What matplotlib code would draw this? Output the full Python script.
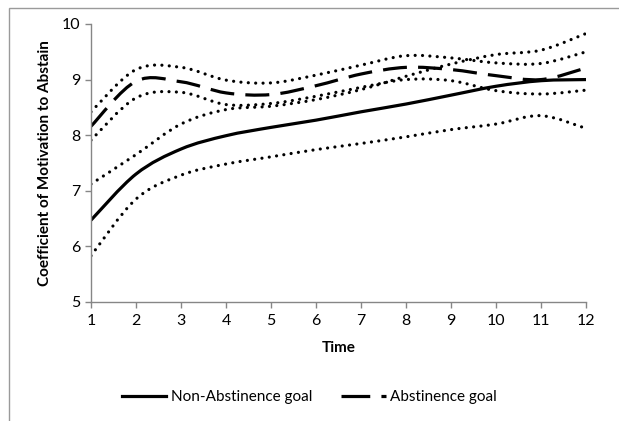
import numpy as np
import matplotlib
matplotlib.use("Agg")
from matplotlib import pyplot as plt
from matplotlib.path import Path
from matplotlib.patches import PathPatch, Rectangle
from matplotlib.lines import Line2D

plt.rcParams['font.family'] = ['Lato', 'DejaVu Sans']

time = [1, 2, 3, 4, 5, 6, 7, 8, 9, 10, 11, 12]

# Non-Abstinence goal: estimate with lower / upper band
non_abst = [6.47, 7.30, 7.75, 7.99, 8.14, 8.27, 8.42, 8.56, 8.72, 8.88, 8.98, 9.00]
non_abst_lo = [5.83, 6.85, 7.28, 7.48, 7.61, 7.74, 7.85, 7.97, 8.10, 8.20, 8.35, 8.12]
non_abst_hi = [7.12, 7.65, 8.20, 8.46, 8.52, 8.64, 8.82, 9.06, 9.28, 9.45, 9.53, 9.83]

# Abstinence goal: estimate with lower / upper band
abst = [8.16, 8.97, 8.96, 8.76, 8.73, 8.89, 9.10, 9.22, 9.18, 9.07, 9.00, 9.21]
abst_lo = [7.91, 8.67, 8.77, 8.55, 8.57, 8.70, 8.86, 9.00, 8.98, 8.80, 8.74, 8.81]
abst_hi = [8.42, 9.18, 9.22, 8.99, 8.94, 9.08, 9.26, 9.43, 9.39, 9.30, 9.29, 9.50]

x_ticks = time
y_ticks = [5, 6, 7, 8, 9, 10]


def smooth_path(x, y):
    # excel-like smoothed line: bezier segments through every point
    p = np.column_stack([x, y]).astype(float)
    n = len(p)
    verts = [p[0]]
    codes = [Path.MOVETO]
    for i in range(n - 1):
        p0 = p[i - 1] if i > 0 else p[i]
        p1, p2 = p[i], p[i + 1]
        p3 = p[i + 2] if i + 2 < n else p[i + 1]
        verts += [p1 + (p2 - p0) / 6., p2 - (p3 - p1) / 6., p2]
        codes += [Path.CURVE4] * 3
    return Path(verts, codes)


def draw(ax, x, y, **kw):
    patch = PathPatch(smooth_path(x, y), fill=False, edgecolor="black",
                      transform=ax.transData, **kw)
    ax.add_patch(patch)


lw = 2.3
dotted = dict(linewidth=lw, linestyle=(0, (0.01, 2.3)), capstyle="round")

fig = plt.figure(figsize=(6.19, 4.21), dpi=100)
ax = fig.add_axes([0.147, 0.283, 0.8, 0.66])

for lo, hi in [(non_abst_lo, non_abst_hi), (abst_lo, abst_hi)]:
    draw(ax, time, lo, **dotted)
    draw(ax, time, hi, **dotted)
draw(ax, time, non_abst, linewidth=lw, capstyle="butt")
draw(ax, time, abst, linewidth=lw, linestyle=(0, (7.5, 3.5)), capstyle="butt")

ax.set_xlim(1, 12)
ax.set_ylim(5, 10)
ax.set_xticks(x_ticks)
ax.set_yticks(y_ticks)
for s in ["top", "right"]:
    ax.spines[s].set_visible(False)
for s in ["left", "bottom"]:
    ax.spines[s].set_color("#868686")
    ax.spines[s].set_linewidth(1.0)
ax.tick_params(colors="#868686", labelcolor="black", labelsize=11.5,
               length=4, width=1.0, direction="out")
ax.tick_params(axis="x", pad=5)
ax.set_xlabel("Time", fontsize=11, fontweight="bold", labelpad=9)
ax.set_ylabel("Coefficient of Motivation to Abstain", fontsize=11,
              fontweight="bold", labelpad=7)

handles = [Line2D([], [], color="black", lw=lw),
           Line2D([], [], color="black", lw=lw, ls=(0, (9, 3.5)))]
fig.legend(handles, ["Non-Abstinence goal", "Abstinence goal"],
           loc="center", bbox_to_anchor=(0.5, 0.057), ncol=2, frameon=False,
           fontsize=11, handlelength=2.9, handletextpad=0.3, columnspacing=1.9)

# outer chart frame
fig.add_artist(Rectangle((9 / 619, -0.1), 1.2, 1 - 8 / 421 + 0.1,
                         transform=fig.transFigure, fill=False,
                         edgecolor="#9a9a9a", linewidth=1.0))

fig.savefig("out.png", dpi=100)
